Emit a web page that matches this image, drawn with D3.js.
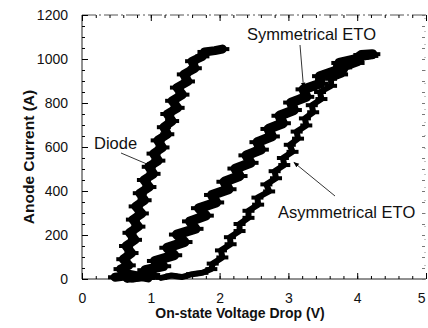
<!DOCTYPE html>
<html>
<head>
<meta charset="utf-8">
<script src="https://cdn.jsdelivr.net/npm/d3@7"></script>
<style>
  body { margin: 0; background: #fff; }
  svg { display: block; font-family: "Liberation Sans", Arial, sans-serif; }
</style>
</head>
<body>
<svg id="chart" width="428" height="328"></svg>
<script>
// Data: [voltage (V), current (A)]
const diode = [
  [0.48, 8], [0.62, 14], [0.74, 4], [0.88, 12], [0.96, 5], [0.64, 24], [0.56, 45], [0.68, 62],
  [0.60, 90], [0.72, 118], [0.64, 150], [0.77, 178], [0.69, 210], [0.82, 238], [0.74, 270],
  [0.87, 298], [0.78, 330], [0.91, 358], [0.84, 390], [0.98, 418], [0.90, 450], [1.04, 478],
  [0.97, 510], [1.11, 538], [1.04, 570], [1.17, 598], [1.10, 630], [1.24, 658], [1.19, 690],
  [1.31, 718], [1.24, 750], [1.39, 778], [1.31, 810], [1.46, 838], [1.38, 870], [1.54, 898],
  [1.48, 930], [1.64, 958], [1.60, 990], [1.75, 1012], [1.78, 1032], [1.93, 1038], [2.04, 1045]
]
const symmetrical = [
  [0.66, 5], [0.86, 12], [1.02, 18], [0.92, 40], [1.18, 58], [1.06, 82], [1.34, 108], [1.24, 142],
  [1.49, 168], [1.38, 202], [1.65, 228], [1.57, 262], [1.80, 288], [1.70, 322], [1.95, 348],
  [1.89, 382], [2.13, 408], [2.07, 442], [2.29, 468], [2.23, 502], [2.45, 528], [2.39, 562],
  [2.60, 588], [2.55, 622], [2.76, 648], [2.71, 682], [2.92, 708], [2.87, 742], [3.08, 768],
  [3.04, 802], [3.26, 828], [3.22, 862], [3.46, 888], [3.46, 922], [3.70, 948], [3.74, 982],
  [3.98, 1000], [4.06, 1018], [4.22, 1022]
]
const asymmetrical = [
  [1.15, 5], [1.30, 16], [1.45, 9], [1.60, 22], [1.75, 28], [1.88, 45], [1.90, 70], [2.04, 98],
  [2.02, 130], [2.16, 158], [2.15, 190], [2.29, 218], [2.29, 250], [2.42, 278], [2.42, 310],
  [2.56, 338], [2.55, 370], [2.72, 398], [2.68, 430], [2.82, 458], [2.80, 490], [2.94, 518],
  [2.92, 550], [3.06, 578], [3.02, 610], [3.14, 638], [3.12, 670], [3.26, 698], [3.24, 730],
  [3.36, 758], [3.34, 790], [3.48, 818], [3.46, 850], [3.62, 878], [3.62, 910], [3.78, 930],
  [3.84, 962], [4.02, 982], [4.08, 1006], [4.22, 1014]
]
const xTicks = [0, 1, 2, 3, 4, 5]
const yTicks = [0, 200, 400, 600, 800, 1000, 1200]

const svg = d3.select('#chart')

const x = d3.scaleLinear().domain([0, 5]).range([82, 426])
const y = d3.scaleLinear().domain([0, 1200]).range([279, 15])

// frame: left/bottom solid, top/right faint like the scan
svg.append('line').attr('x1', x(0)).attr('x2', x(0)).attr('y1', y(0)).attr('y2', y(1200))
  .attr('stroke', '#222').attr('stroke-width', 1)
svg.append('line').attr('x1', x(0)).attr('x2', x(5)).attr('y1', y(0)).attr('y2', y(0))
  .attr('stroke', '#222').attr('stroke-width', 1)
svg.append('line').attr('x1', x(0)).attr('x2', x(5)).attr('y1', y(1200)).attr('y2', y(1200))
  .attr('stroke', '#555').attr('stroke-width', 1).attr('stroke-dasharray', '14,3,2,3')
svg.append('line').attr('x1', x(5) - 1).attr('x2', x(5) - 1).attr('y1', y(0)).attr('y2', y(1200))
  .attr('stroke', '#888').attr('stroke-width', 1).attr('stroke-dasharray', '1,12')

// axes with inward ticks
const minorX = d3.range(0, 5.01, 0.2)
const minorY = d3.range(0, 1201, 50)

const gx = svg.append('g').attr('transform', `translate(0,${y(0)})`)
gx.call(d3.axisBottom(x).tickValues(minorX).tickSize(-3).tickFormat(''))
gx.append('g').call(d3.axisBottom(x).tickValues(xTicks).tickSize(-6).tickPadding(14).tickFormat(d3.format('d')))
gx.selectAll('.domain').remove()

const gxTop = svg.append('g').attr('transform', `translate(0,${y(1200)})`)
gxTop.call(d3.axisTop(x).tickValues(minorX).tickSize(-3).tickFormat(''))
gxTop.append('g').call(d3.axisTop(x).tickValues(xTicks).tickSize(-6).tickFormat(''))
gxTop.selectAll('.domain').remove()

const gy = svg.append('g').attr('transform', `translate(${x(0)},0)`)
gy.call(d3.axisLeft(y).tickValues(minorY).tickSize(-3).tickFormat(''))
gy.append('g').call(d3.axisLeft(y).tickValues(yTicks).tickSize(-6).tickPadding(14).tickFormat(d3.format('d')))
gy.selectAll('.domain').remove()

const gyRight = svg.append('g').attr('transform', `translate(${x(5) - 1},0)`)
gyRight.call(d3.axisRight(y).tickValues(minorY).tickSize(-3).tickFormat(''))
gyRight.selectAll('.domain').remove()
gyRight.selectAll('line').attr('stroke', '#777')

svg.selectAll('.tick text').attr('font-size', 14).attr('fill', '#111')
  .attr('font-family', '"Liberation Sans", Arial, sans-serif')
svg.selectAll('.tick line').attr('stroke-width', 1)
// last x label sits at the window edge; keep it inside
gx.selectAll('.tick text').filter(d => d === 5).attr('text-anchor', 'end').attr('dx', -1)

// measured curves: thick ragged bands
const line = d3.line().x(d => x(d[0])).y(d => y(d[1]))
const series = [
  { data: diode, w: 9, bar: 14 },
  { data: symmetrical, w: 10, bar: 16 },
  { data: asymmetrical, w: 6, bar: 12 }
]
series.forEach(s => {
  svg.append('path').datum(s.data).attr('d', line)
    .attr('fill', 'none').attr('stroke', '#000')
    .attr('stroke-width', s.w).attr('stroke-linejoin', 'round').attr('stroke-linecap', 'round')
  svg.append('g').selectAll('rect').data(s.data).join('rect')
    .attr('x', d => x(d[0]) - s.bar / 2)
    .attr('y', d => y(d[1]) - 2)
    .attr('width', s.bar).attr('height', 4).attr('fill', '#000')
})

// annotations
svg.append('defs').append('marker').attr('id', 'head')
  .attr('viewBox', '0 0 10 10').attr('refX', 9).attr('refY', 5)
  .attr('markerWidth', 7).attr('markerHeight', 7).attr('orient', 'auto')
  .append('path').attr('d', 'M0,1L10,5L0,9Z').attr('fill', '#000')

const notes = [
  { text: 'Diode', tx: 94, ty: 149, from: [121, 153], to: [1.0, 515] },
  { text: 'Symmetrical ETO', tx: 247, ty: 40, from: [300, 45], to: [3.22, 870] },
  { text: 'Asymmetrical ETO', tx: 278, ty: 218, from: [335, 196], to: [3.08, 530] }
]
notes.forEach(n => {
  svg.append('text').attr('x', n.tx).attr('y', n.ty).attr('font-size', 16.5)
    .attr('fill', '#111').text(n.text)
  svg.append('line').attr('x1', n.from[0]).attr('y1', n.from[1])
    .attr('x2', x(n.to[0])).attr('y2', y(n.to[1]))
    .attr('stroke', '#000').attr('stroke-width', 0.8).attr('marker-end', 'url(#head)')
})

// axis titles
svg.append('text').attr('x', 240).attr('y', 318).attr('text-anchor', 'middle')
  .attr('font-size', 14).attr('font-weight', 'bold').attr('fill', '#111')
  .text('On-state Voltage Drop (V)')
svg.append('text').attr('transform', 'translate(34,157) rotate(-90)').attr('text-anchor', 'middle')
  .attr('font-size', 15.5).attr('font-weight', 'bold').attr('fill', '#111')
  .text('Anode Current  (A)')
</script>
</body>
</html>
